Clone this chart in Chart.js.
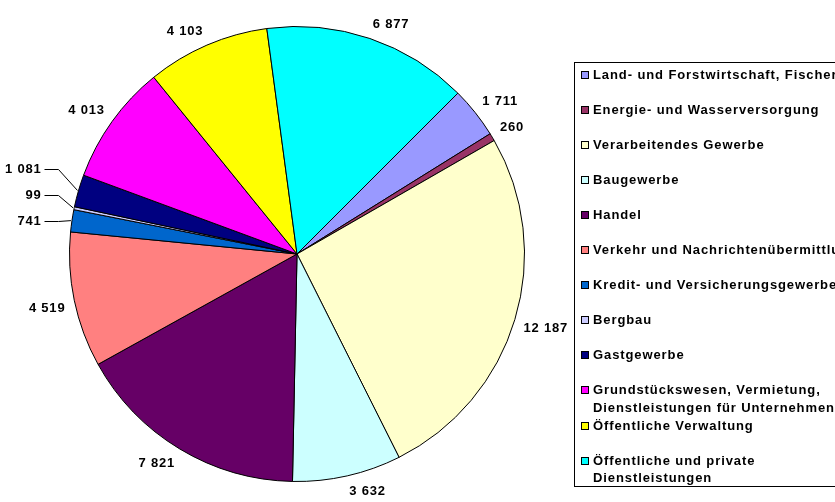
<!DOCTYPE html>
<html>
<head>
<meta charset="utf-8">
<script src="https://cdn.jsdelivr.net/npm/chart.js@4"></script>
<style>
    body { margin: 0; background: #fff; }
    #chartDiv { display: block; }
</style>
</head>
<body>
<canvas id="chartDiv" width="835" height="502"></canvas>
<script>
// Data
const sectors = [
    'Land- und Forstwirtschaft, Fischerei',
    'Energie- und Wasserversorgung',
    'Verarbeitendes Gewerbe',
    'Baugewerbe',
    'Handel',
    'Verkehr und Nachrichtenübermittlung',
    'Kredit- und Versicherungsgewerbe',
    'Bergbau',
    'Gastgewerbe',
    ['Grundstückswesen, Vermietung,', 'Dienstleistungen für Unternehmen'],
    'Öffentliche Verwaltung',
    ['Öffentliche und private', 'Dienstleistungen']
];
const values = [1711, 260, 12187, 3632, 7821, 4519, 741, 99, 1081, 4013, 4103, 6877];
const sliceColors = [
    '#9999FF', '#993366', '#FFFFCC', '#CCFFFF', '#660066', '#FF8080',
    '#0066CC', '#CCCCFF', '#000080', '#FF00FF', '#FFFF00', '#00FFFF'
];

const FONT = 'bold 13px Arial, "Liberation Sans", sans-serif';

function fmt(v) {
    return String(v).replace(/\B(?=(\d{3})+(?!\d))/g, ' ');
}

// value labels round the pie, small left slices get leader lines
const valueLabels = {
    id: 'valueLabels',
    afterDraw(chart) {
        const ctx = chart.ctx;
        const arcs = chart.getDatasetMeta(0).data;
        const total = values.reduce((a, b) => a + b, 0);
        ctx.save();
        ctx.font = FONT;
        ctx.letterSpacing = '0.8px';
        ctx.fillStyle = '#000';
        ctx.strokeStyle = '#000';
        ctx.lineWidth = 1;
        ctx.textBaseline = 'middle';
        let lastY = Infinity;
        arcs.forEach((arc, i) => {
            const mid = (arc.startAngle + arc.endAngle) / 2;
            const cos = Math.cos(mid), sin = Math.sin(mid);
            const r = arc.outerRadius;
            const text = fmt(values[i]);
            const w = ctx.measureText(text).width;
            if (values[i] / total < 0.03 && cos < 0) {
                let y = arc.y + sin * r;
                if (y > lastY - 26) y = lastY - 26;
                lastY = y;
                const right = arc.x - r - 28;
                ctx.textAlign = 'right';
                ctx.fillText(text, right, y + 0.5);
                ctx.beginPath();
                ctx.moveTo(right + 3, Math.round(y) + 0.5);
                ctx.lineTo(right + 17, Math.round(y) + 0.5);
                ctx.lineTo(arc.x + cos * (r + 1), arc.y + sin * (r + 1));
                ctx.stroke();
            } else {
                // the label box corner nearest the pie sits just off the rim
                const px = arc.x + cos * (r + 9);
                const py = arc.y + sin * (r + 9);
                ctx.textAlign = 'center';
                ctx.fillText(text, px + Math.sign(cos) * w / 2, py + Math.sign(sin) * 6 + 0.5);
            }
        });
        ctx.restore();
    }
};

// boxed legend on the right, cut off by the canvas edge like the original
const boxLegend = {
    id: 'boxLegend',
    afterDraw(chart) {
        const ctx = chart.ctx;
        const left = 574.5, top = 62.5, bottom = 486.5;
        ctx.save();
        ctx.strokeStyle = '#000';
        ctx.lineWidth = 1;
        ctx.strokeRect(left, top, 300, bottom - top);
        ctx.font = FONT;
        ctx.letterSpacing = '0.9px';
        ctx.textBaseline = 'middle';
        ctx.textAlign = 'left';
        sectors.forEach((label, i) => {
            const y = 74.5 + i * 35.1;
            const sy = Math.round(y) - 3;
            ctx.fillStyle = sliceColors[i];
            ctx.fillRect(582, sy, 6, 6);
            ctx.strokeRect(581.5, sy - 0.5, 7, 7);
            ctx.fillStyle = '#000';
            const lines = Array.isArray(label) ? label : [label];
            lines.forEach((line, j) => {
                ctx.fillText(line, 593, y + j * 17.5 + 0.5);
            });
        });
        ctx.restore();
    }
};

const canvas = document.getElementById('chartDiv');
new Chart(canvas, {
    type: 'pie',
    data: {
        labels: sectors.map(s => Array.isArray(s) ? s.join(' ') : s),
        datasets: [{
            data: values,
            backgroundColor: sliceColors,
            borderColor: '#000',
            borderWidth: 1
        }]
    },
    options: {
        responsive: false,
        animation: false,
        rotation: 45,
        layout: {
            padding: { left: 69, right: 310, top: 26, bottom: 20 }
        },
        plugins: {
            legend: { display: false },
            tooltip: { enabled: false }
        }
    },
    plugins: [valueLabels, boxLegend]
});
</script>
</body>
</html>
